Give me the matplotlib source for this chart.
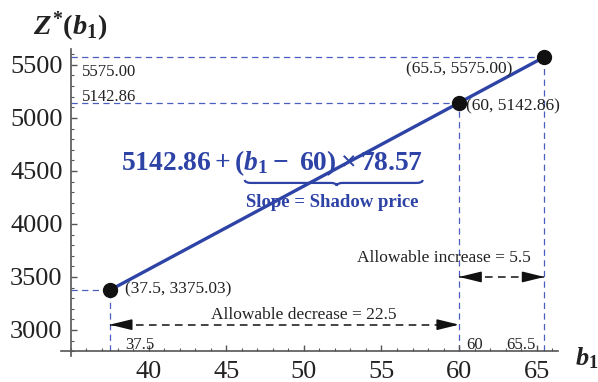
import matplotlib
matplotlib.use('Agg')
import matplotlib.pyplot as plt
from matplotlib.path import Path
from matplotlib.patches import PathPatch
from matplotlib.ticker import MultipleLocator
import matplotlib.transforms as mtransforms

# data
b1_points = [37.5, 60, 65.5]
z_points = [3375.03, 5142.86, 5575.00]
point_labels = ['(37.5, 3375.03)', '(60, 5142.86)', '(65.5, 5575.00)']
x_ticks = [40, 45, 50, 55, 60, 65]
y_ticks = [3000, 3500, 4000, 4500, 5000, 5500]
decrease_range = [37.5, 60]
increase_range = [60, 65.5]

plt.rcParams['font.family'] = 'Liberation Serif'
plt.rcParams['mathtext.fontset'] = 'custom'
plt.rcParams['mathtext.rm'] = 'Liberation Serif:bold'
plt.rcParams['mathtext.it'] = 'Liberation Serif:bold:italic'
plt.rcParams['mathtext.bf'] = 'Liberation Serif:bold'

blue = '#2e43a6'
dblue = '#4a5ec0'
txt = '#222222'

fig = plt.figure(figsize=(5.98, 3.82), dpi=100)
ax = fig.add_axes([0.1018, 0.0668, 0.8321, 0.805])
ax.set_xlim(34.35, 66.4)
ax.set_ylim(2750, 5650)

for s in ['top', 'right']:
    ax.spines[s].set_visible(False)
ax.spines['left'].set_position(('data', 35))
ax.spines['bottom'].set_position(('data', 2800))
for s in ['left', 'bottom']:
    ax.spines[s].set_color('#555555')
    ax.spines[s].set_linewidth(1.2)

ax.set_xticks(x_ticks)
ax.set_yticks(y_ticks)
ax.xaxis.set_minor_locator(MultipleLocator(1))
ax.yaxis.set_minor_locator(MultipleLocator(100))
ax.tick_params(which='both', direction='in', color='#555555', labelsize=19, labelcolor=txt)
ax.tick_params(which='major', length=4, width=1)
ax.tick_params(which='minor', length=2.3, width=0.8)
ax.tick_params(axis='x', pad=7)
ax.tick_params(axis='y', pad=6)

# guide lines
for x, z in zip(b1_points, z_points):
    ax.plot([35, x], [z, z], ls=(0, (5, 3.5)), color=dblue, lw=0.9, zorder=1)
    ax.plot([x, x], [2800, z], ls=(0, (5, 3.5)), color=dblue, lw=0.9, zorder=1)

# main line and points
ax.plot(b1_points, z_points, color=blue, lw=2.4, zorder=3)
ax.plot(b1_points, z_points, 'o', color='#111111', ms=10, zorder=4)

# point labels
ax.text(38.5, 3387, point_labels[0], fontsize=12.5, color=txt, va='center', ha='left')
ax.text(60.45, 5104, point_labels[1], fontsize=12.5, color=txt, va='center', ha='left')
ax.text(63.4, 5453, point_labels[2], fontsize=12.5, color=txt, va='center', ha='right')
ax.text(35.7, 5437, '%.2f' % z_points[2], fontsize=12, color=txt, va='center', ha='left')
ax.text(35.7, 5201, '%.2f' % z_points[1], fontsize=12, color=txt, va='center', ha='left')
ax.text(38.5, 2859, '37.5', fontsize=12, color=txt, va='center', ha='left')
ax.text(60.45, 2859, '60', fontsize=12, color=txt, va='center', ha='left')
ax.text(64.9, 2859, '65.5', fontsize=12, color=txt, va='center', ha='right')


def dashed_arrow(x0, x1, y):
    ax.plot([x0, x1], [y, y], ls=(0, (5, 3.5)), color='#111111', lw=1.1, zorder=2)
    hp = dict(arrowstyle='-|>,head_length=0.9,head_width=0.22', color='#111111',
              mutation_scale=15, shrinkA=0, shrinkB=0, lw=1.1)
    ax.annotate('', xy=(x0, y), xytext=(x0 + 1.3, y), arrowprops=hp)
    ax.annotate('', xy=(x1, y), xytext=(x1 - 1.3, y), arrowprops=hp)


dashed_arrow(decrease_range[0], decrease_range[1], 3050)
dashed_arrow(increase_range[0], increase_range[1], 3500)
ax.text(50, 3140, 'Allowable decrease = %.1f' % (decrease_range[1] - decrease_range[0]),
        fontsize=12.5, color=txt, ha='center', va='center')
ax.text(59.0, 3680, 'Allowable increase = %.1f' % (increase_range[1] - increase_range[0]),
        fontsize=12.5, color=txt, ha='center', va='center')

# formula
ax.text(47.95, 4575, r'$5142.86+(b_1-\ 60)\times 78.57$', fontsize=19.8, color=blue,
        ha='center', va='center')
ax.text(51.8, 4206, 'Slope = Shadow price', fontsize=13.5, fontweight='bold', color=blue,
        ha='center', va='center')

# underbrace (in pixel space)
fig.canvas.draw()
p0 = ax.transData.transform((46.2, 4415))
p1 = ax.transData.transform((57.65, 4415))
xa, xb, y0 = p0[0], p1[0], p0[1]
xm = (xa + xb) / 2 + 3
h, q = 3.0, 6.0
verts = [(xa, y0), (xa, y0 - h), (xa + q, y0 - h),
         (xm - q, y0 - h),
         (xm, y0 - h), (xm, y0 - 2 * h),
         (xm, y0 - h), (xm + q, y0 - h),
         (xb - q, y0 - h),
         (xb, y0 - h), (xb, y0)]
codes = [Path.MOVETO, Path.CURVE3, Path.CURVE3, Path.LINETO,
         Path.CURVE3, Path.CURVE3, Path.CURVE3, Path.CURVE3,
         Path.LINETO, Path.CURVE3, Path.CURVE3]
brace = PathPatch(Path(verts, codes), fill=False, edgecolor=blue, lw=1.6,
                  transform=mtransforms.IdentityTransform())
fig.add_artist(brace)

# axis labels
fig.text(33 / 598, 1 - 27 / 382, r'$Z^{*}(b_1)$', fontsize=20.5, color=txt, ha='left', va='center')
fig.text(575 / 598, 1 - 358 / 382, r'$b_1$', fontsize=19, color=txt, ha='left', va='center')

fig.savefig('out.png', dpi=100)
